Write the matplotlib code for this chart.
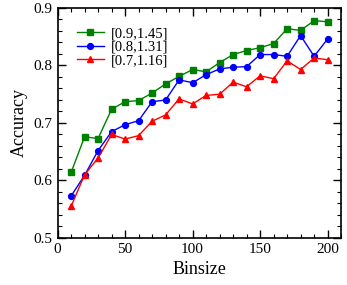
import matplotlib
matplotlib.use('Agg')
import matplotlib.pyplot as plt
from matplotlib.ticker import MultipleLocator

plt.rcParams['font.family'] = 'Liberation Serif'

binsize = [10, 20, 30, 40, 50, 60, 70, 80, 90, 100,
           110, 120, 130, 140, 150, 160, 170, 180, 190, 200]
acc_a = [0.614, 0.676, 0.673, 0.724, 0.737, 0.739, 0.752, 0.768, 0.781, 0.793,
         0.789, 0.805, 0.819, 0.826, 0.831, 0.838, 0.864, 0.861, 0.878, 0.876]
acc_b = [0.573, 0.609, 0.652, 0.685, 0.697, 0.704, 0.737, 0.740, 0.775, 0.770,
         0.784, 0.794, 0.797, 0.798, 0.819, 0.819, 0.816, 0.852, 0.816, 0.846]
acc_c = [0.555, 0.610, 0.639, 0.680, 0.672, 0.678, 0.703, 0.714, 0.742, 0.733,
         0.748, 0.750, 0.771, 0.763, 0.782, 0.777, 0.808, 0.793, 0.813, 0.810]
labels = ['[0.9,1.45]', '[0.8,1.31]', '[0.7,1.16]']

fig = plt.figure(figsize=(3.47, 2.85), dpi=100)
ax = fig.add_axes([0.166, 0.165, 0.817, 0.807])

ax.plot(binsize, acc_a, '-s', color='#008000', ms=3.7, lw=1, label=labels[0])
ax.plot(binsize, acc_b, '-o', color='#0000ff', ms=4.2, lw=1, label=labels[1])
ax.plot(binsize, acc_c, '-^', color='#ff0000', ms=4.5, lw=1, label=labels[2])

ax.set_xlim(0, 210)
ax.set_ylim(0.5, 0.9)
ax.xaxis.set_major_locator(MultipleLocator(50))
ax.xaxis.set_minor_locator(MultipleLocator(10))
ax.yaxis.set_major_locator(MultipleLocator(0.1))
ax.yaxis.set_minor_locator(MultipleLocator(0.02))
ax.tick_params(which='both', direction='in', top=True, right=True, labelsize=11)
ax.tick_params(which='major', length=6, width=1)
ax.tick_params(which='minor', length=3, width=0.8)
for s in ax.spines.values():
    s.set_linewidth(1.2)

ax.set_xlabel('Binsize', fontsize=13)
ax.set_ylabel('Accuracy', fontsize=13)
ax.legend(loc='upper left', frameon=False, fontsize=10.5, handlelength=1.9,
          handletextpad=0.45, labelspacing=0.02, borderaxespad=0.9)

fig.savefig('out.png', dpi=100)
